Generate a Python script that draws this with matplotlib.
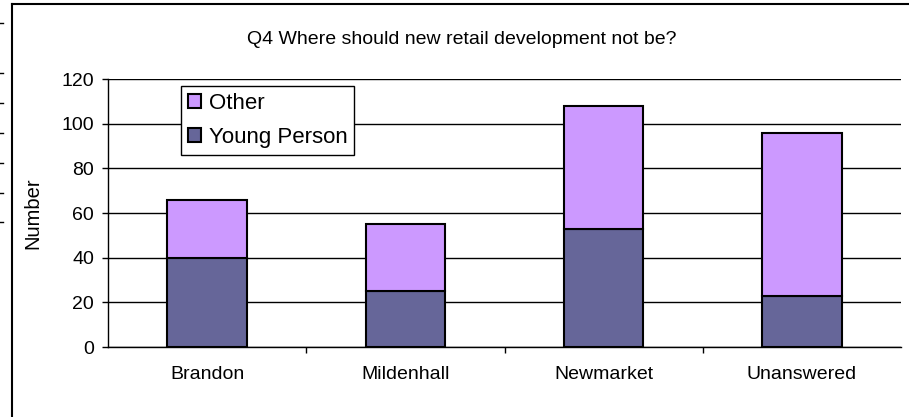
import numpy as np
import matplotlib
matplotlib.use('Agg')
import matplotlib.pyplot as plt
from matplotlib.lines import Line2D

plt.rcParams['font.family'] = ['Liberation Sans', 'DejaVu Sans']

# donnees
places = ['Brandon', 'Mildenhall', 'Newmarket', 'Unanswered']
young = [40, 25, 53, 23]
other = [26, 30, 55, 73]
yticks = [0, 20, 40, 60, 80, 100, 120]

W, H = 909, 417
fig = plt.figure(figsize=(W/100., H/100.), dpi=100)
ax = fig.add_axes([108./W, 70./H, 793./W, 268./H])

x = np.arange(len(places))
b1 = ax.bar(x, young, 0.4, color='#666699', edgecolor='black', linewidth=1.5, zorder=3, label='Young Person')
b2 = ax.bar(x, other, 0.4, bottom=young, color='#CC99FF', edgecolor='black', linewidth=1.5, zorder=3, label='Other')

ax.set_xlim(-0.5, 3.5)
ax.set_ylim(0, 120)
ax.set_yticks(yticks)
ax.grid(axis='y', color='black', linewidth=1, zorder=0)
ax.set_axisbelow(True)

ax.set_xticks(x)
ax.set_xticklabels(places)
ax.set_xticks(np.arange(0.5, 3.5, 1), minor=True)
ax.tick_params(axis='x', which='major', length=0, pad=14, labelsize=14)
ax.tick_params(axis='x', which='minor', length=4, direction='out', width=1)
ax.tick_params(axis='y', length=4, width=1, pad=6, labelsize=14)

for s in ['top', 'right']:
    ax.spines[s].set_visible(False)
ax.spines['left'].set_linewidth(1)
ax.spines['bottom'].set_linewidth(1)

ax.set_ylabel('Number', fontsize=14.5)
ax.yaxis.set_label_coords(-0.083, 0.5)

fig.text(462./W, 1 - 40./H, 'Q4 Where should new retail development not be?', ha='center', va='center', fontsize=14)

leg = ax.legend([b2, b1], ['Other', 'Young Person'], loc='upper left', bbox_to_anchor=(0.092, 0.974),
                fontsize=16, frameon=True, fancybox=False, shadow=False, framealpha=1,
                handlelength=0.59, handleheight=0.59, handletextpad=0.36, labelspacing=0.6,
                borderpad=0.3, borderaxespad=0)
leg.get_frame().set_edgecolor('black')
leg.get_frame().set_linewidth(1)
leg.set_zorder(5)

# cadre exterieur
fig.add_artist(Line2D([12./W, 12./W], [0, 1 - 3.5/H], color='black', linewidth=1.5, transform=fig.transFigure))
fig.add_artist(Line2D([12./W, 1], [1 - 3.5/H, 1 - 3.5/H], color='black', linewidth=1.5, transform=fig.transFigure))

# petits traits au bord gauche
for yy in [22.7, 72.7, 103, 133, 163, 193, 222]:
    fig.add_artist(Line2D([0, 3./W], [1 - yy/H, 1 - yy/H], color='black', linewidth=1, transform=fig.transFigure))

fig.savefig('out.png', dpi=100)
